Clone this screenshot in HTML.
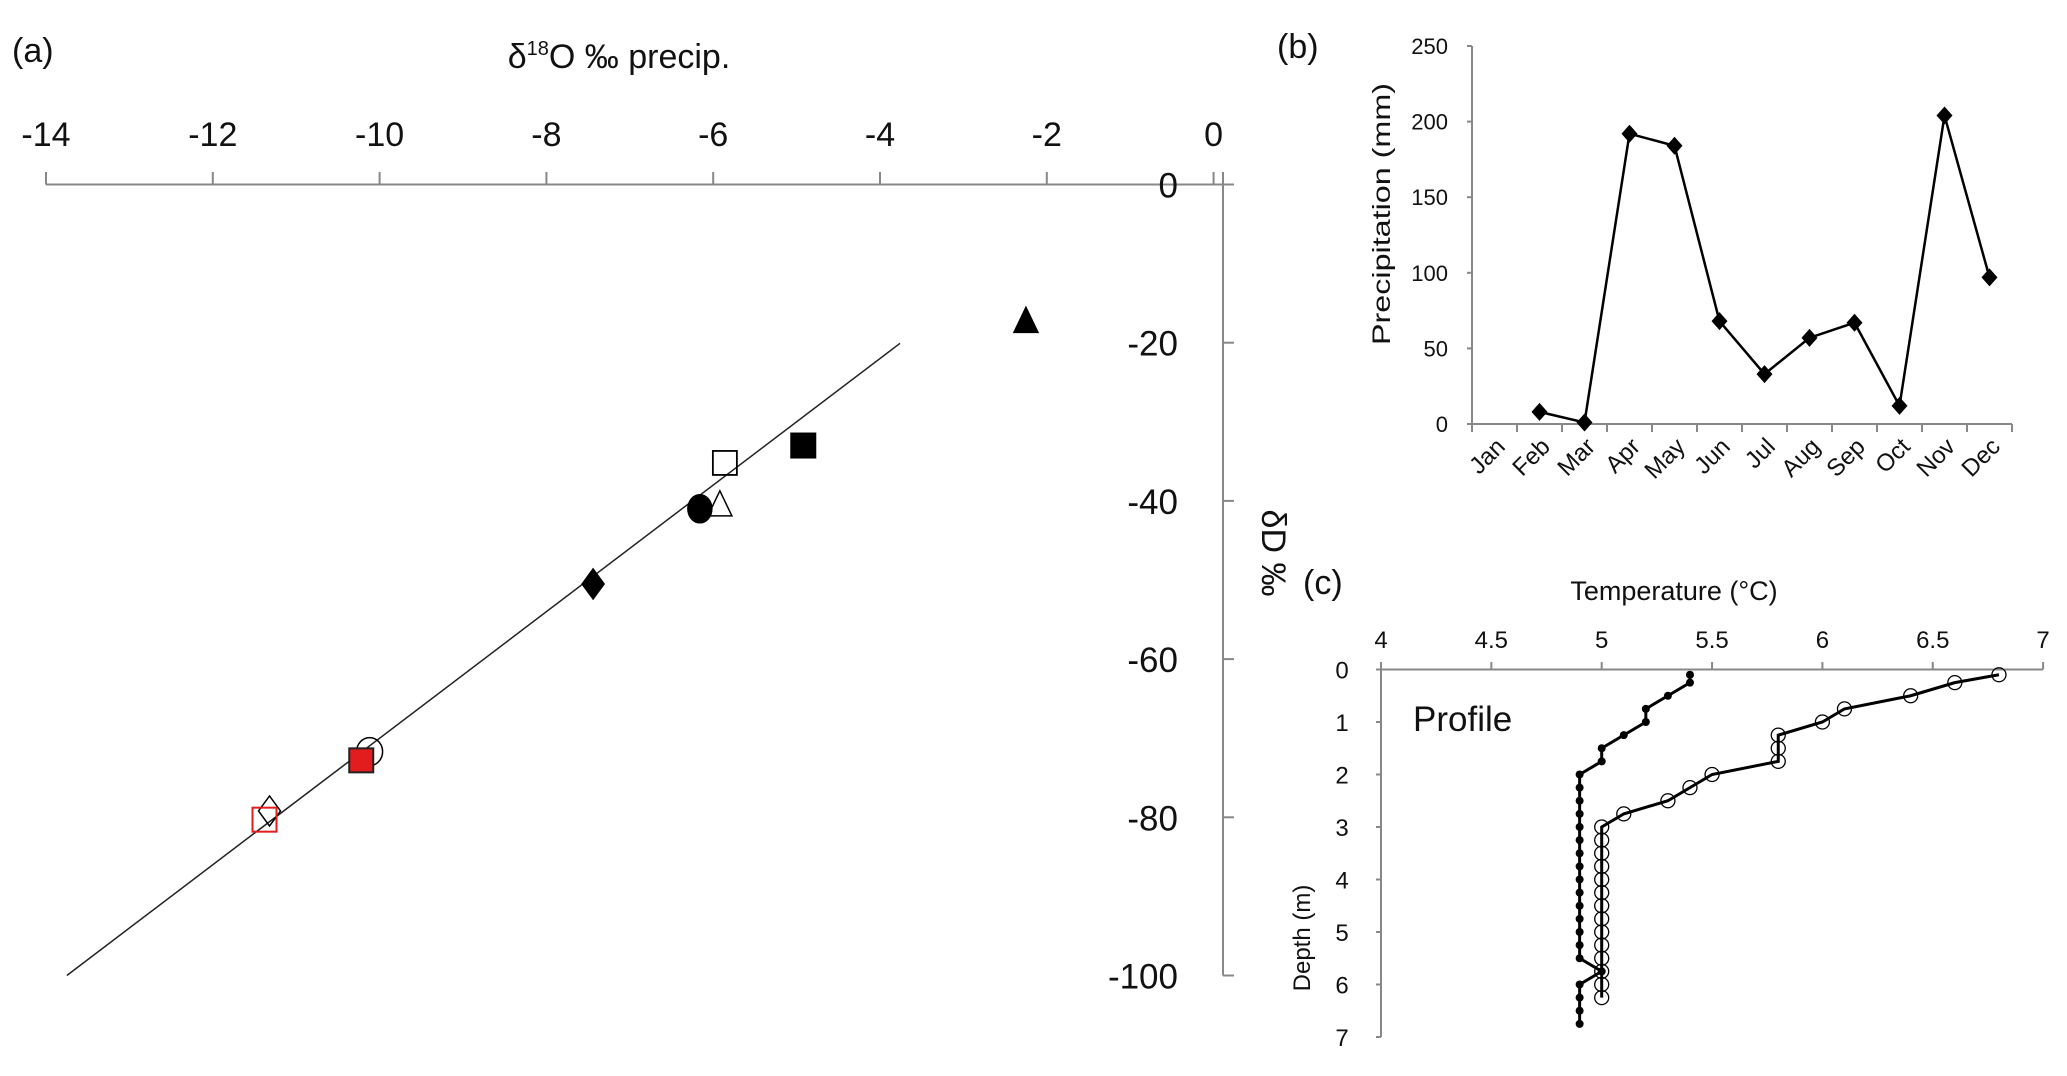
<!DOCTYPE html>
<html><head><meta charset="utf-8"><style>
html,body{margin:0;padding:0;background:#fff;overflow:hidden;}
svg{display:block;font-family:"Liberation Sans",sans-serif;}
</style></head><body>
<svg id="fig" width="2067" height="1076" viewBox="0 0 2067 1076">
<g id="pa"></g>
<g id="pb"></g>
<g id="pc"></g>
</svg>
<script>
// Panel a data
const aXTicks = [-14,-12,-10,-8,-6,-4,-2,0];
const aYTicks = [0,-20,-40,-60,-80,-100];
const aLineX = [-13.75,-3.76];
const aSymbols = ['tri-fill','sq-fill','sq-open','tri-open','circ-fill','dia-fill','circ-open','sq-red','dia-open','sq-red-open'];
const aO18 = [-2.25,-4.92,-5.86,-5.92,-6.16,-7.44,-10.12,-10.22,-11.32,-11.38];
const aD = [-17.3,-33.0,-35.2,-40.5,-41.0,-50.5,-71.7,-72.8,-79.2,-80.3];
// Panel b data
const bMonths = ['Jan','Feb','Mar','Apr','May','Jun','Jul','Aug','Sep','Oct','Nov','Dec'];
const bPrecip = [null,8,1,192,184,68,33,57,67,12,204,97];
const bYTicks = [0,50,100,150,200,250];
// Panel c data
const cXTicks = [4,4.5,5,5.5,6,6.5,7];
const cYTicks = [0,1,2,3,4,5,6,7];
const cFilledT = [5.4,5.4,5.3,5.2,5.2,5.1,5.0,5.0,4.9,4.9,4.9,4.9,4.9,4.9,4.9,4.9,4.9,4.9,4.9,4.9,4.9,4.9,4.9,5.0,4.9,4.9,4.9,4.9];
const cFilledD = [0.1,0.25,0.5,0.75,1,1.25,1.5,1.75,2,2.25,2.5,2.75,3,3.25,3.5,3.75,4,4.25,4.5,4.75,5,5.25,5.5,5.75,6,6.25,6.5,6.75];
const cOpenT = [6.8,6.6,6.4,6.1,6.0,5.8,5.8,5.8,5.5,5.4,5.3,5.1,5.0,5.0,5.0,5.0,5.0,5.0,5.0,5.0,5.0,5.0,5.0,5.0,5.0,5.0];
const cOpenD = [0.1,0.25,0.5,0.75,1,1.25,1.5,1.75,2,2.25,2.5,2.75,3,3.25,3.5,3.75,4,4.25,4.5,4.75,5,5.25,5.5,5.75,6,6.25];

const NS='http://www.w3.org/2000/svg';
function mk(parent,tag,attrs,text){const e=document.createElementNS(NS,tag);for(const k in attrs)e.setAttribute(k,attrs[k]);if(text!==undefined)e.textContent=text;parent.appendChild(e);return e;}

// ---------- Panel a ----------
const pa=document.getElementById('pa');
const ax=v=>46+(v+14)*83.4, ay=v=>184.5-v*7.91;
const aAxisX=1223;
let e;
e=mk(pa,'text',{x:12,y:62,'font-size':34,fill:'#111'},'(a)');


e=mk(pa,'text',{x:619,y:68,'font-size':34,'text-anchor':'middle',fill:'#111'});
e.innerHTML='δ<tspan font-size="20" dy="-13">18</tspan><tspan dy="13">O ‰ precip.</tspan>';


e=mk(pa,'line',{x1:46,y1:184.5,x2:aAxisX+10,y2:184.5,stroke:'#888','stroke-width':2});


e=mk(pa,'line',{x1:aAxisX,y1:172,x2:aAxisX,y2:ay(-100),stroke:'#888','stroke-width':2});


aXTicks.forEach(v=>{
  const t=mk(pa,'line',{x1:ax(v),y1:172,x2:ax(v),y2:184.5,stroke:'#888','stroke-width':2});
  
  
  const l=mk(pa,'text',{x:ax(v),y:146,'font-size':34,'text-anchor':'middle',fill:'#111'},String(v));
  
  
});
aYTicks.forEach(v=>{
  const t=mk(pa,'line',{x1:aAxisX,y1:ay(v),x2:aAxisX+11,y2:ay(v),stroke:'#888','stroke-width':2});
  
  
  const l=mk(pa,'text',{x:1178,y:ay(v)+13,'font-size':35,'text-anchor':'end',fill:'#111'},String(v));
  
  
});
e=mk(pa,'text',{x:0,y:0,'font-size':34,'text-anchor':'middle',fill:'#111',transform:'translate(1262,553) rotate(90)'},'δD ‰');


e=mk(pa,'line',{x1:ax(aLineX[0]),y1:ay(8*aLineX[0]+10),x2:ax(aLineX[1]),y2:ay(8*aLineX[1]+10),stroke:'#222','stroke-width':1.5});


aSymbols.forEach((s,i)=>{
  const x=ax(aO18[i]),y=ay(aD[i]);let m;
  if(s.startsWith('tri')) m=mk(pa,'polygon',{points:`${x},${y-14} ${x-12},${y+11} ${x+12},${y+11}`,fill:s==='tri-fill'?'#000':'#fff',stroke:'#000','stroke-width':1.5});
  else if(s.startsWith('sq')){const red=s.includes('red');const open=s.includes('open');
    m=mk(pa,'rect',{x:x-12,y:y-12,width:24,height:24,fill:open?'none':(red?'#e31d1d':'#000'),stroke:red?(open?'#e31d1d':'#222'):'#000','stroke-width':s==='sq-open'?1.8:2});}
  else if(s.startsWith('circ')) m=mk(pa,'ellipse',{cx:x,cy:y,rx:s==='circ-fill'?12:13,ry:14,fill:s==='circ-fill'?'#000':'none',stroke:'#000','stroke-width':1.5});
  else m=mk(pa,'polygon',{points:`${x},${y-15} ${x+11},${y} ${x},${y+15} ${x-11},${y}`,fill:s==='dia-fill'?'#000':'none',stroke:'#000','stroke-width':1.5});
  
  
});

// ---------- Panel b ----------
const pb=document.getElementById('pb');
const bx0=1472,bw=540/12;
const bx=i=>bx0+(i+0.5)*bw, by=v=>424-v*1.512;
e=mk(pb,'text',{x:1277,y:58,'font-size':34,fill:'#111'},'(b)');


e=mk(pb,'line',{x1:bx0,y1:by(250),x2:bx0,y2:424,stroke:'#888','stroke-width':2});


e=mk(pb,'line',{x1:bx0-5,y1:424,x2:bx0+540,y2:424,stroke:'#888','stroke-width':2});


bYTicks.forEach(v=>{
  const t=mk(pb,'line',{x1:bx0-5,y1:by(v),x2:bx0,y2:by(v),stroke:'#888','stroke-width':2});
  
  
  const l=mk(pb,'text',{x:1448,y:by(v)+8,'font-size':22,'text-anchor':'end',fill:'#111'},String(v));
  
  
});
for(let i=0;i<=12;i++){const t=mk(pb,'line',{x1:bx0+i*bw,y1:424,x2:bx0+i*bw,y2:432,stroke:'#888','stroke-width':2});
  
  }
bMonths.forEach((m,i)=>{
  const l=mk(pb,'text',{x:0,y:0,'font-size':24,'text-anchor':'end',fill:'#111',transform:`translate(${bx(i)+12},${448}) rotate(-45)`},m);
  
  
});
e=mk(pb,'text',{x:0,y:0,'font-size':25,'text-anchor':'middle',fill:'#111',textLength:262,lengthAdjust:'spacingAndGlyphs',transform:'translate(1390,214) rotate(-90)'},'Precipitation (mm)');


let pts=[];bPrecip.forEach((v,i)=>{if(v!==null)pts.push(bx(i)+','+by(v));});
e=mk(pb,'polyline',{points:pts.join(' '),fill:'none',stroke:'#000','stroke-width':2.5});


bPrecip.forEach((v,i)=>{if(v===null)return;const x=bx(i),y=by(v);
  const m=mk(pb,'polygon',{points:`${x},${y-9} ${x+8},${y} ${x},${y+9} ${x-8},${y}`,fill:'#000'});
  
  });

// ---------- Panel c ----------
const pc=document.getElementById('pc');
const cx=v=>1381+(v-4)*220.7, cy=v=>669.5+v*52.5;
e=mk(pc,'text',{x:1303,y:594,'font-size':34,fill:'#111'},'(c)');


e=mk(pc,'text',{x:1674,y:600,'font-size':27,'text-anchor':'middle',fill:'#111'},'Temperature (°C)');


e=mk(pc,'line',{x1:cx(4),y1:669.5,x2:cx(7),y2:669.5,stroke:'#888','stroke-width':2});


e=mk(pc,'line',{x1:cx(4),y1:662,x2:cx(4),y2:cy(7),stroke:'#888','stroke-width':2});


cXTicks.forEach(v=>{
  const t=mk(pc,'line',{x1:cx(v),y1:662,x2:cx(v),y2:669.5,stroke:'#888','stroke-width':2});
  
  
  const l=mk(pc,'text',{x:cx(v),y:648,'font-size':24,'text-anchor':'middle',fill:'#111'},String(v));
  
  
});
cYTicks.forEach(v=>{
  const t=mk(pc,'line',{x1:cx(4)-5,y1:cy(v),x2:cx(4),y2:cy(v),stroke:'#888','stroke-width':2});
  
  
  const l=mk(pc,'text',{x:1342,y:cy(v)+9,'font-size':24,'text-anchor':'middle',fill:'#111'},String(v));
  
  
});
e=mk(pc,'text',{x:0,y:0,'font-size':24,'text-anchor':'middle',fill:'#111',transform:'translate(1310,938) rotate(-90)'},'Depth (m)');


e=mk(pc,'text',{x:1413,y:731,'font-size':35,fill:'#111'},'Profile');


e=mk(pc,'polyline',{points:cOpenT.map((t,i)=>cx(t)+','+cy(cOpenD[i])).join(' '),fill:'none',stroke:'#000','stroke-width':3});


e=mk(pc,'polyline',{points:cFilledT.map((t,i)=>cx(t)+','+cy(cFilledD[i])).join(' '),fill:'none',stroke:'#000','stroke-width':3});


cOpenT.forEach((t,i)=>{const m=mk(pc,'circle',{cx:cx(t),cy:cy(cOpenD[i]),r:7,fill:'#fff','fill-opacity':0,stroke:'#000','stroke-width':1.3});
  
  });
cFilledT.forEach((t,i)=>{const m=mk(pc,'circle',{cx:cx(t),cy:cy(cFilledD[i]),r:4,fill:'#000'});
  
  });
</script>
</body></html>
